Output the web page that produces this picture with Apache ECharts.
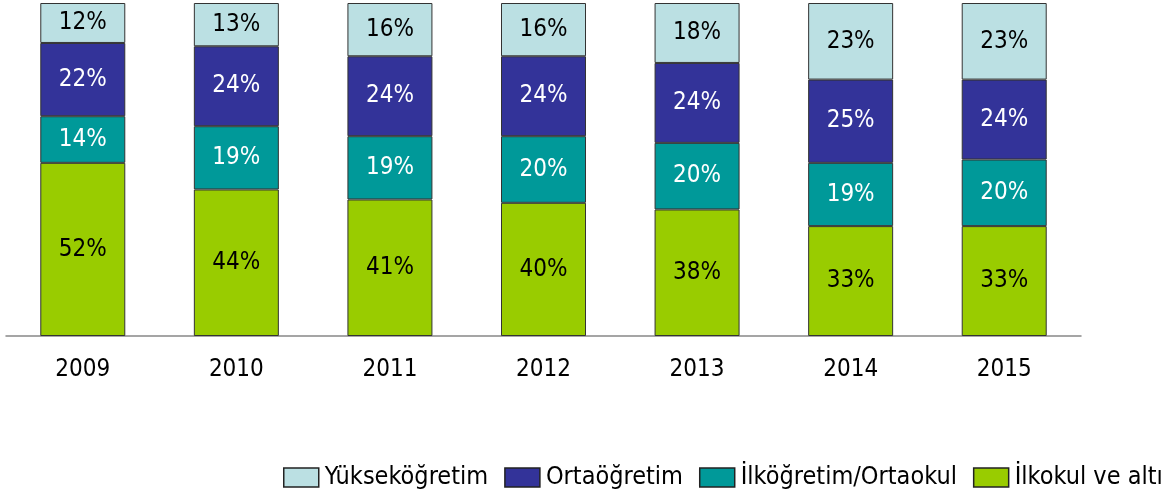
<html>
<head>
<meta charset="utf-8">
<script type="text/javascript" src="https://cdn.jsdelivr.net/npm/echarts@6/dist/echarts.min.js"></script>
<style type="text/css">
	body { margin: 0; background: #fff; }
</style>
<title>Eğitim durumu</title>
</head>
<body>
	<div id="chart" style="width: 1163px; height: 500px;"></div>

	<script type="text/javascript">
// data (percent shares)
var years = ['2009', '2010', '2011', '2012', '2013', '2014', '2015'];
var ilkokul = [52, 44, 41, 40, 38, 33, 33];      // İlkokul ve altı
var ilkogretim = [14, 19, 19, 20, 20, 19, 20];   // İlköğretim/Ortaokul
var ortaogretim = [22, 24, 24, 24, 24, 25, 24];  // Ortaöğretim
var yuksek = [12, 13, 16, 16, 18, 23, 23];       // Yükseköğretim
var legendNames = ['Yükseköğretim', 'Ortaöğretim', 'İlköğretim/Ortaokul', 'İlkokul ve altı'];

var font = '"DejaVu Sans Condensed", "DejaVu Sans", sans-serif';

function mkSeries(name, data, color, textColor) {
	return {
		name: name,
		type: 'bar',
		stack: 'total',
		barWidth: 85,
		data: data,
		itemStyle: { color: color, borderColor: '#333333', borderWidth: 1 },
		label: {
			show: true,
			position: 'inside',
			formatter: '{c}%',
			color: textColor,
			fontFamily: font,
			fontSize: 24
		}
	};
}

var option = {
	animation: false,
	grid: { left: 6, right: 82, top: 3, bottom: 164, containLabel: false },
	legend: {
		left: 278,
		top: 460,
		width: 1000,
		itemWidth: 35,
		itemHeight: 19,
		itemGap: 16,
		icon: 'rect',
		itemStyle: { borderColor: '#222222', borderWidth: 1.5 },
		// legend order differs from the stack order
		data: legendNames,
		textStyle: { fontFamily: font, fontSize: 25, color: '#000', padding: [0, 0, 0, 1] }
	},
	xAxis: {
		type: 'category',
		data: years,
		axisLine: { lineStyle: { color: '#888888', width: 1.5 } },
		axisTick: { show: false },
		axisLabel: { margin: 22, fontFamily: font, fontSize: 24, color: '#000' }
	},
	yAxis: {
		type: 'value',
		min: 0,
		max: 100,
		show: false,
		splitLine: { show: false }
	},
	series: [
		mkSeries('İlkokul ve altı', ilkokul, '#99CC00', '#000'),
		mkSeries('İlköğretim/Ortaokul', ilkogretim, '#009999', '#fff'),
		mkSeries('Ortaöğretim', ortaogretim, '#333399', '#fff'),
		mkSeries('Yükseköğretim', yuksek, '#BBE0E3', '#000')
	]
};

var myChart = echarts.init(document.getElementById('chart'));
myChart.setOption(option);
</script>
</body>
</html>
